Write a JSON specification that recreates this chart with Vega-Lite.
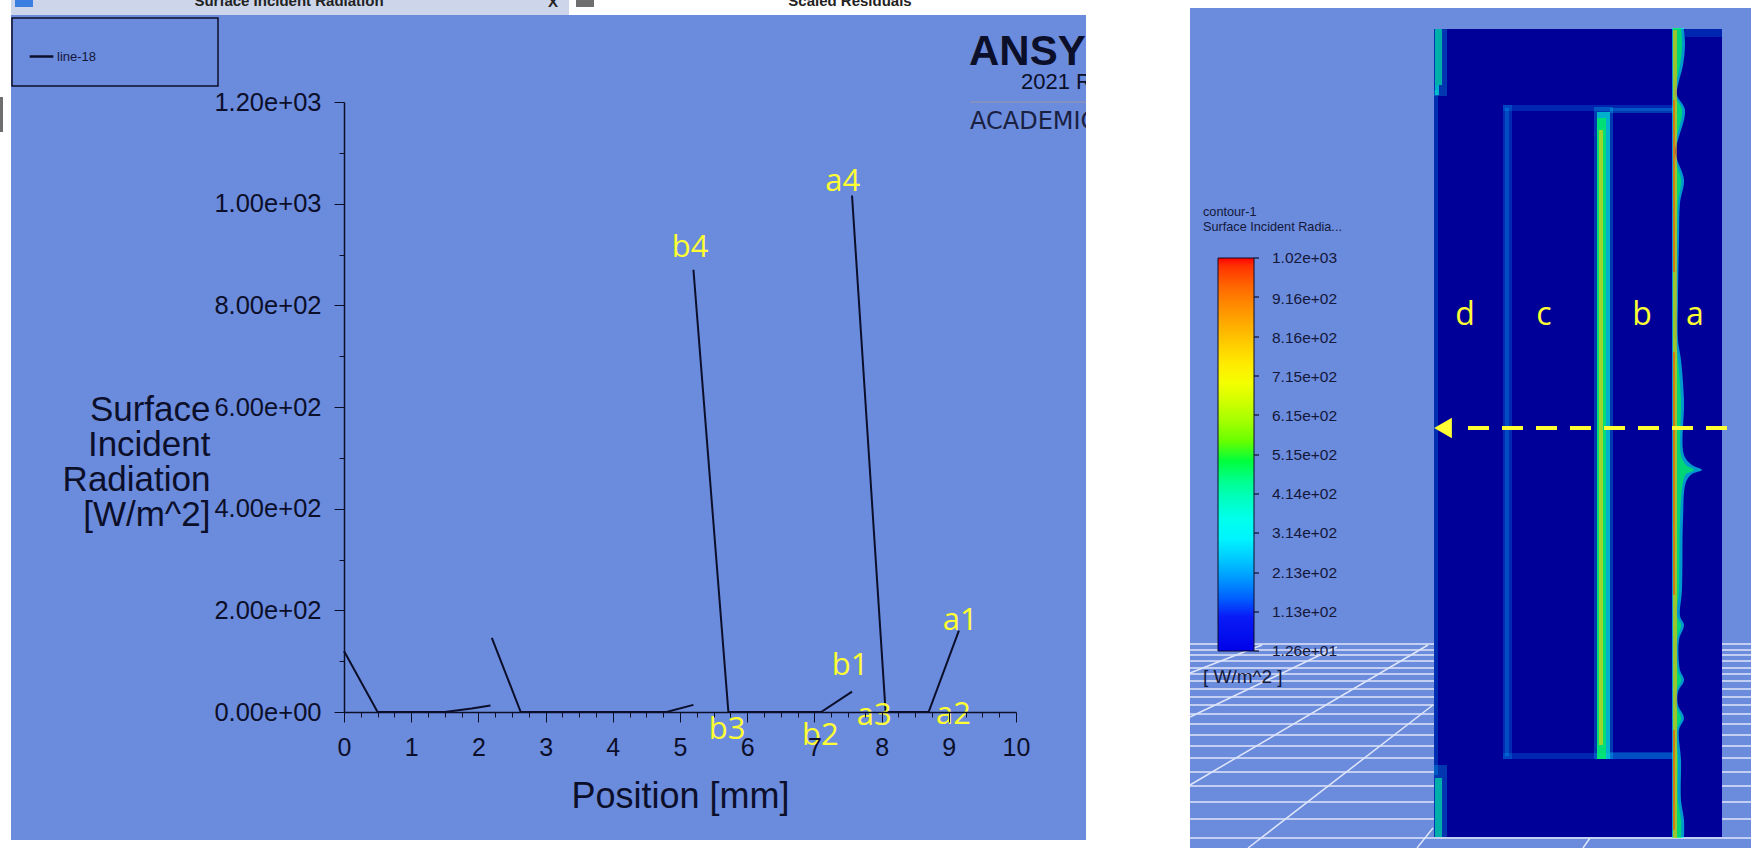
{"$schema":"https://vega.github.io/schema/vega-lite/v6.json","width":1751,"height":848,"padding":0,"autosize":{"type":"none"},"background":"#ffffff",
"config":{"view":{"stroke":null},"font":"Liberation Sans"},
"layer":[
{"encoding":{"x":{"field":"x","type":"quantitative","scale":{"domain":[0,1751]},"axis":null},"y":{"field":"y","type":"quantitative","scale":{"domain":[0,848],"range":[0,848]},"axis":null}},
"layer":[
{"data":{"values":[{"x":11,"x2":1086,"y":15,"y2":840},{"x":1190,"x2":1751,"y":8,"y2":848}]},"mark":{"type":"rect","color":"#6b8bdd"},"encoding":{"x2":{"field":"x2"},"y2":{"field":"y2"}}},
{"data":{"values":[{"x":969,"y":52,"t":"ANSYS"}]},"mark":{"type":"text","align":"left","baseline":"middle","fontSize":42,"fontWeight":"bold","color":"#0c0f2a"},"encoding":{"text":{"field":"t"}}},
{"data":{"values":[{"x":1021,"y":82,"t":"2021 R1"}]},"mark":{"type":"text","align":"left","baseline":"middle","fontSize":22,"color":"#0c0f2a"},"encoding":{"text":{"field":"t"}}},
{"data":{"values":[{"x":970,"y":122,"t":"ACADEMIC"}]},"mark":{"type":"text","align":"left","baseline":"middle","fontSize":24,"font":"DejaVu Sans","color":"#1a2040"},"encoding":{"text":{"field":"t"}}},
{"data":{"values":[{"x":970,"x2":1086,"y":102}]},"mark":{"type":"rule","color":"#8a93b8","strokeWidth":1.5},"encoding":{"x2":{"field":"x2"}}},
{"data":{"values":[{"x":1086,"x2":1190,"y":0,"y2":848},{"x":1190,"x2":1751,"y":0,"y2":8}]},"mark":{"type":"rect","color":"#ffffff"},"encoding":{"x2":{"field":"x2"},"y2":{"field":"y2"}}},
{"data":{"values":[{"x":11,"x2":569,"y":0,"y2":15}]},"mark":{"type":"rect","color":"#ccd5ea"},"encoding":{"x2":{"field":"x2"},"y2":{"field":"y2"}}},
{"data":{"values":[{"x":15,"x2":33,"y":0,"y2":7}]},"mark":{"type":"rect","color":"#3b7ee2"},"encoding":{"x2":{"field":"x2"},"y2":{"field":"y2"}}},
{"data":{"values":[{"x":576,"x2":594,"y":0,"y2":7},{"x":0,"x2":3,"y":97,"y2":132}]},"mark":{"type":"rect","color":"#6e6e6e"},"encoding":{"x2":{"field":"x2"},"y2":{"field":"y2"}}},
{"data":{"values":[{"x":289,"y":1,"t":"Surface Incident Radiation"},{"x":553,"y":2,"t":"X"},{"x":850,"y":1,"t":"Scaled Residuals"}]},"mark":{"type":"text","align":"center","baseline":"middle","fontSize":15,"fontWeight":"bold","color":"#222222"},"encoding":{"text":{"field":"t"}}},
{"data":{"values":[{"x":12,"x2":218,"y":18,"y2":86}]},"mark":{"type":"rect","fillOpacity":0,"stroke":"#0c0f2a","strokeWidth":1.5},"encoding":{"x2":{"field":"x2"},"y2":{"field":"y2"}}},
{"data":{"values":[{"x":1190,"x2":1751,"y":644},{"x":1190,"x2":1751,"y":650},{"x":1190,"x2":1751,"y":655},{"x":1190,"x2":1751,"y":661},{"x":1190,"x2":1751,"y":668},{"x":1190,"x2":1751,"y":674},{"x":1190,"x2":1751,"y":681},{"x":1190,"x2":1751,"y":689},{"x":1190,"x2":1751,"y":697},{"x":1190,"x2":1751,"y":705},{"x":1190,"x2":1751,"y":714},{"x":1190,"x2":1751,"y":724},{"x":1190,"x2":1751,"y":735},{"x":1190,"x2":1751,"y":746},{"x":1190,"x2":1751,"y":758},{"x":1190,"x2":1751,"y":772},{"x":1190,"x2":1751,"y":786},{"x":1190,"x2":1751,"y":802},{"x":1190,"x2":1751,"y":819},{"x":1190,"x2":1751,"y":838}]},"mark":{"type":"rule","color":"#dfe6fa","strokeWidth":1.5},"encoding":{"x2":{"field":"x2"}}},
{"data":{"values":[{"s":"d0","x":1190,"y":673},{"s":"d0","x":1262,"y":645},{"s":"d1","x":1190,"y":717},{"s":"d1","x":1337,"y":647},{"s":"d2","x":1190,"y":785},{"s":"d2","x":1428,"y":645},{"s":"d3","x":1248,"y":848},{"s":"d3","x":1433,"y":705},{"s":"d4","x":1417,"y":848},{"s":"d4","x":1433,"y":828},{"s":"d5","x":1583,"y":848},{"s":"d5","x":1590,"y":838}]},"mark":{"type":"line","color":"#dfe6fa","strokeWidth":1.5},"encoding":{"detail":{"field":"s"}}},
{"data":{"values":[{"x":1434,"x2":1722,"y":29,"y2":837}]},"mark":{"type":"rect","color":"#000000"},"encoding":{"x2":{"field":"x2"},"y2":{"field":"y2"}}},
{"data":{"values":[{"x":1434,"x2":1722,"y":29,"y2":837,"v":12.6}]},"mark":{"type":"rect","fillOpacity":0.66},"encoding":{"x2":{"field":"x2"},"y2":{"field":"y2"},"fill":{"field":"v","type":"quantitative","scale":{"domain":[12.6,113,314,515,715,1020],"range":["#0000e8","#0a1ef8","#00ffff","#00ff00","#ffff00","#ff0000"]},"legend":{"orient":"none","legendX":1218,"legendY":258,"title":null,"values":[12.6,113,213,314,414,515,615,715,816,916,1020],"gradientLength":393,"gradientThickness":36,"gradientStrokeColor":"#0c0f2a","gradientStrokeWidth":1,"labelFontSize":15.5,"labelOffset":18,"labelColor":"#14183a","labelOverlap":false,"encoding":{"labels":{"baseline":{"value":"middle"}}},"labelExpr":"replace(format(datum.value,'.2e'),'e+','e+0')"}}}},
{"data":{"values":[
{"x":1685,"x2":1722,"y":29,"y2":37,"v":200},
{"x":1503,"x2":1673,"y":105,"y2":111,"v":200},
{"x":1503,"x2":1673,"y":753,"y2":759,"v":200},
{"x":1503,"x2":1512,"y":105,"y2":759,"v":220},
{"x":1505,"x2":1509,"y":108,"y2":756,"v":240},
{"x":1610,"x2":1673,"y":108,"y2":113,"v":300},
{"x":1610,"x2":1673,"y":752,"y2":759,"v":260},
{"x":1434,"x2":1438,"y":90,"y2":775,"v":240},
{"x":1434,"x2":1447,"y":29,"y2":96,"v":280},
{"x":1434,"x2":1447,"y":765,"y2":837,"v":280},
{"x":1594,"x2":1613,"y":107,"y2":759,"v":300}
]},"mark":{"type":"rect","fillOpacity":0.24},"encoding":{"x2":{"field":"x2"},"y2":{"field":"y2"},"fill":{"field":"v","type":"quantitative"}}},
{"data":{"values":[
{"v":340,"x":1672,"x2":1684,"y":28},{"v":340,"x":1672,"x2":1685,"y":45},{"v":340,"x":1672,"x2":1683,"y":65},{"v":340,"x":1672,"x2":1678,"y":85},{"v":340,"x":1672,"x2":1677,"y":95},{"v":340,"x":1672,"x2":1685,"y":110},{"v":340,"x":1672,"x2":1678,"y":140},{"v":340,"x":1672,"x2":1675,"y":152},{"v":340,"x":1672,"x2":1678,"y":162},{"v":340,"x":1672,"x2":1684,"y":180},{"v":340,"x":1672,"x2":1680,"y":203},{"v":340,"x":1672,"x2":1679,"y":240},{"v":340,"x":1672,"x2":1678,"y":300},{"v":340,"x":1672,"x2":1678,"y":340},{"v":340,"x":1672,"x2":1681,"y":360},{"v":340,"x":1672,"x2":1684,"y":400},{"v":340,"x":1672,"x2":1684,"y":455},{"v":340,"x":1672,"x2":1692,"y":465},{"v":340,"x":1672,"x2":1702,"y":470},{"v":340,"x":1672,"x2":1692,"y":474},{"v":340,"x":1672,"x2":1686,"y":482},{"v":340,"x":1672,"x2":1683,"y":520},{"v":340,"x":1672,"x2":1682,"y":590},{"v":340,"x":1672,"x2":1680,"y":616},{"v":340,"x":1672,"x2":1684,"y":625},{"v":340,"x":1672,"x2":1679,"y":640},{"v":340,"x":1672,"x2":1680,"y":670},{"v":340,"x":1672,"x2":1684,"y":680},{"v":340,"x":1672,"x2":1678,"y":692},{"v":340,"x":1672,"x2":1678,"y":705},{"v":340,"x":1672,"x2":1684,"y":718},{"v":340,"x":1672,"x2":1679,"y":730},{"v":340,"x":1672,"x2":1681,"y":760},{"v":340,"x":1672,"x2":1681,"y":800},{"v":340,"x":1672,"x2":1684,"y":820},{"v":340,"x":1672,"x2":1684,"y":838},
{"v":500,"x":1673,"x2":1681,"y":28},{"v":500,"x":1673,"x2":1682,"y":45},{"v":500,"x":1673,"x2":1680,"y":65},{"v":500,"x":1673,"x2":1676,"y":85},{"v":500,"x":1673,"x2":1675,"y":95},{"v":500,"x":1673,"x2":1682,"y":110},{"v":500,"x":1673,"x2":1676,"y":140},{"v":500,"x":1673,"x2":1674,"y":152},{"v":500,"x":1673,"x2":1676,"y":162},{"v":500,"x":1673,"x2":1681,"y":180},{"v":500,"x":1673,"x2":1678,"y":203},{"v":500,"x":1673,"x2":1677,"y":240},{"v":500,"x":1673,"x2":1676,"y":300},{"v":500,"x":1673,"x2":1676,"y":340},{"v":500,"x":1673,"x2":1678,"y":360},{"v":500,"x":1673,"x2":1681,"y":400},{"v":500,"x":1673,"x2":1681,"y":455},{"v":500,"x":1673,"x2":1686,"y":465},{"v":500,"x":1673,"x2":1694,"y":470},{"v":500,"x":1673,"x2":1686,"y":474},{"v":500,"x":1673,"x2":1683,"y":482},{"v":500,"x":1673,"x2":1680,"y":520},{"v":500,"x":1673,"x2":1679,"y":590},{"v":500,"x":1673,"x2":1677,"y":616},{"v":500,"x":1673,"x2":1681,"y":625},{"v":500,"x":1673,"x2":1677,"y":640},{"v":500,"x":1673,"x2":1678,"y":670},{"v":500,"x":1673,"x2":1681,"y":680},{"v":500,"x":1673,"x2":1676,"y":692},{"v":500,"x":1673,"x2":1676,"y":705},{"v":500,"x":1673,"x2":1681,"y":718},{"v":500,"x":1673,"x2":1677,"y":730},{"v":500,"x":1673,"x2":1678,"y":760},{"v":500,"x":1673,"x2":1678,"y":800},{"v":500,"x":1673,"x2":1681,"y":820},{"v":500,"x":1673,"x2":1681,"y":838}
]},"mark":{"type":"area","orient":"horizontal","interpolate":"catmull-rom","fillOpacity":0.6},"encoding":{"x2":{"field":"x2"},"detail":{"field":"v"},"fill":{"field":"v","type":"quantitative"}}},
{"data":{"values":[
{"x":1435,"x2":1442,"y":29,"y2":85,"v":430},
{"x":1435,"x2":1439,"y":85,"y2":95,"v":380},
{"x":1435,"x2":1442,"y":778,"y2":837,"v":430},
{"x":1597,"x2":1610,"y":112,"y2":759,"v":370},
{"x":1597,"x2":1606,"y":118,"y2":759,"v":500},
{"x":1599,"x2":1603,"y":130,"y2":745,"v":790},
{"x":1673,"x2":1677,"y":30,"y2":838,"v":830},
{"x":1673,"x2":1675,"y":100,"y2":272,"v":980},
{"x":1673,"x2":1675,"y":352,"y2":595,"v":980},
{"x":1673,"x2":1675,"y":730,"y2":830,"v":980}
]},"mark":{"type":"rect","fillOpacity":0.6},"encoding":{"x2":{"field":"x2"},"y2":{"field":"y2"},"fill":{"field":"v","type":"quantitative"}}},
{"data":{"values":[{"x":1203,"y":212,"t":"contour-1"},{"x":1203,"y":227,"t":"Surface Incident Radia..."}]},"mark":{"type":"text","align":"left","baseline":"middle","fontSize":12.7,"color":"#14183a"},"encoding":{"text":{"field":"t"}}},
{"data":{"values":[{"x":1203,"y":677,"t":"[ W/m^2 ]"}]},"mark":{"type":"text","align":"left","baseline":"middle","fontSize":19,"color":"#14183a"},"encoding":{"text":{"field":"t"}}},
{"data":{"values":[{"x":1254,"x2":1259,"y":258},{"x":1254,"x2":1259,"y":297},{"x":1254,"x2":1259,"y":337},{"x":1254,"x2":1259,"y":376},{"x":1254,"x2":1259,"y":415},{"x":1254,"x2":1259,"y":455},{"x":1254,"x2":1259,"y":494},{"x":1254,"x2":1259,"y":533},{"x":1254,"x2":1259,"y":573},{"x":1254,"x2":1259,"y":612},{"x":1254,"x2":1259,"y":651}]},"mark":{"type":"rule","color":"#0c0f2a","strokeWidth":1.2},"encoding":{"x2":{"field":"x2"}}},
{"data":{"values":[{"x":1727,"x2":1460,"y":428}]},"mark":{"type":"rule","color":"#ffff33","strokeWidth":4,"strokeDash":[21,13]},"encoding":{"x2":{"field":"x2"}}},
{"data":{"values":[{"x":1443,"y":428}]},"mark":{"type":"point","shape":"triangle-left","filled":true,"size":420,"color":"#ffff33","opacity":1}},
{"data":{"values":[{"x":1465,"y":315,"t":"d"},{"x":1544,"y":315,"t":"c"},{"x":1642,"y":315,"t":"b"},{"x":1695,"y":315,"t":"a"}]},"mark":{"type":"text","align":"center","baseline":"middle","font":"Open Sans","fontSize":32,"color":"#ffff33"},"encoding":{"text":{"field":"t"}}}
]},
{"encoding":{"x":{"field":"position","type":"quantitative","scale":{"domain":[0,10],"range":[344,1016]},"axis":{"zindex":1,"offset":-136,"values":[0,0.25,0.5,0.75,1,1.25,1.5,1.75,2,2.25,2.5,2.75,3,3.25,3.5,3.75,4,4.25,4.5,4.75,5,5.25,5.5,5.75,6,6.25,6.5,6.75,7,7.25,7.5,7.75,8,8.25,8.5,8.75,9,9.25,9.5,9.75,10],"labelExpr":"datum.value%1==0?format(datum.value,'d'):''","labelOverlap":false,"labelFlush":false,"grid":false,"tickSize":{"condition":{"test":"datum.value%1==0","value":10},"value":5},"tickColor":"#0c0f2a","domainColor":"#0c0f2a","domainWidth":1.5,"labelFontSize":25,"labelColor":"#0c0f2a","labelPadding":13,"title":"Position [mm]","titleFontSize":36,"titleFontWeight":"normal","titleColor":"#0c0f2a","titlePadding":19}},
"y":{"field":"value","type":"quantitative","scale":{"domain":[0,1200],"range":[712,102]},"axis":{"zindex":1,"offset":-344,"values":[0,100,200,300,400,500,600,700,800,900,1000,1100,1200],"labelExpr":"datum.value%200==0?replace(format(datum.value,'.2e'),'e+','e+0'):''","labelOverlap":false,"labelFlush":false,"grid":false,"tickSize":{"condition":{"test":"datum.value%200==0","value":10},"value":5},"tickColor":"#0c0f2a","domainColor":"#0c0f2a","domainWidth":1.5,"labelFontSize":25.5,"labelColor":"#0c0f2a","labelPadding":13,"title":["Surface","Incident","Radiation","[W/m^2]"],"titleFontSize":35,"titleFontWeight":"normal","titleColor":"#0c0f2a","titleAngle":0,"titleAlign":"right","titleBaseline":"middle","titleLineHeight":35,"titleX":-134,"titleY":409}}},
"layer":[
{"data":{"values":[{"series":"line-18","segment":1,"position":0,"value":120},{"series":"line-18","segment":1,"position":0.5,"value":0},{"series":"line-18","segment":1,"position":1.5,"value":0},{"series":"line-18","segment":1,"position":1.9,"value":7},{"series":"line-18","segment":1,"position":2.18,"value":13},{"series":"line-18","segment":2,"position":2.2,"value":146},{"series":"line-18","segment":2,"position":2.63,"value":0},{"series":"line-18","segment":2,"position":4.8,"value":0},{"series":"line-18","segment":2,"position":5.2,"value":14},{"series":"line-18","segment":3,"position":5.2,"value":870},{"series":"line-18","segment":3,"position":5.72,"value":0},{"series":"line-18","segment":3,"position":7.1,"value":0},{"series":"line-18","segment":3,"position":7.56,"value":40},{"series":"line-18","segment":4,"position":7.56,"value":1016},{"series":"line-18","segment":4,"position":8.06,"value":0},{"series":"line-18","segment":4,"position":8.7,"value":0},{"series":"line-18","segment":4,"position":9.15,"value":160}]},"mark":{"type":"line","strokeWidth":2},"encoding":{"detail":{"field":"segment"},"stroke":{"field":"series","type":"nominal","scale":{"range":["#0c0f2a"]},"legend":{"orient":"none","legendX":28,"legendY":43,"title":null,"symbolType":"stroke","symbolSize":560,"symbolStrokeWidth":2.5,"labelFontSize":13,"labelColor":"#14183a","labelOffset":2}}}},
{"data":{"values":[{"t":"a4","position":7.42,"value":1043},{"t":"b4","position":5.15,"value":912},{"t":"a1","position":9.17,"value":179},{"t":"b1","position":7.53,"value":90},{"t":"a3","position":7.89,"value":-7},{"t":"a2","position":9.07,"value":-5},{"t":"b3","position":5.7,"value":-36},{"t":"b2","position":7.09,"value":-47}]},"mark":{"type":"text","align":"center","baseline":"middle","font":"Open Sans","fontSize":31,"color":"#ffff33"},"encoding":{"text":{"field":"t"}}}
]}
],
"resolve":{"scale":{"x":"independent","y":"independent"}}}
